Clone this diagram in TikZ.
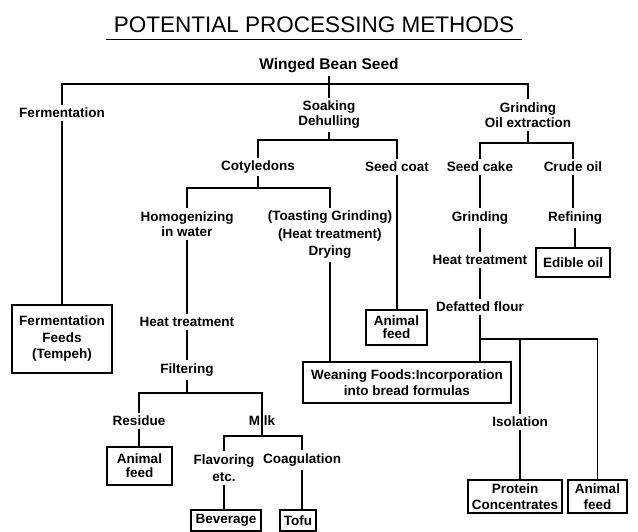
\documentclass[tikz,border=0pt]{standalone}
\usepackage{fontspec}
\setmainfont{Liberation Sans}
\begin{document}
\begin{tikzpicture}[x=1pt,y=-1pt,
  lbl/.style={font=\bfseries\fontsize{13.5}{15}\selectfont, align=center, inner sep=3pt},
  box/.style={lbl, draw, line width=1.5pt, inner sep=0pt},
  conn/.style={line width=1.4pt}]
\useasboundingbox (0,0) rectangle (638,532);
% title
\node[font=\fontsize{22.5}{26}\selectfont, inner sep=0pt] (title) at (314,25) {POTENTIAL PROCESSING METHODS};
\draw[line width=1.2pt] ([xshift=-8pt,yshift=-6pt]title.south west) -- ([xshift=8pt,yshift=-6pt]title.south east);
% level 0/1
\node[lbl, font=\bfseries\fontsize{15.5}{17}\selectfont] (w) at (329,66) {Winged Bean Seed};
\node[lbl] (ferm) at (62,113) {Fermentation};
\node[lbl] (soak) at (329,115) {Soaking\\Dehulling};
\node[lbl] (grind) at (528,115) {Grinding\\Oil extraction};
\coordinate (top) at (329,84);
\draw[conn] (w.south) -- (soak.north);
\draw[conn] (ferm.north) |- (top) -| (grind.north);
% fermentation branch
\node[box, minimum width=100pt, minimum height=68pt, font=\bfseries\fontsize{13.5}{16.5}\selectfont] (fbox) at (62,339) {Fermentation\\Feeds\\(Tempeh)};
\draw[conn] (ferm.south) -- (fbox.north);
% soaking branch
\node[lbl] (coty) at (258,167) {Cotyledons};
\node[lbl] (seedcoat) at (397,167) {Seed coat};
\coordinate (j2) at (329,140);
\draw[conn] (soak.south) -- (j2);
\draw[conn] (coty.north) |- (j2) -| (seedcoat.north);
\node[box, minimum width=61pt, minimum height=35pt, font=\bfseries\fontsize{13.5}{13}\selectfont] (af2) at (396.5,327.5) {Animal\\feed};
\draw[conn] (seedcoat.south) -- (seedcoat.south |- af2.north);
\node[lbl] (homog) at (187,224) {Homogenizing\\in water};
\node[lbl, font=\bfseries\fontsize{13.5}{17.5}\selectfont] (toast) at (330,235) {(Toasting Grinding)\\(Heat treatment)\\Drying};
\coordinate (j4) at (258,188);
\draw[conn] (coty.south) -- (j4);
\draw[conn] (homog.north) |- (j4) -| (toast.north);
\node[lbl] (heat1) at (187,322) {Heat treatment};
\node[lbl] (filter) at (187,370) {Filtering};
\draw[conn] (homog.south) -- (heat1.north);
\draw[conn] (heat1.south) -- (filter.north);
\node[lbl] (residue) at (139,421) {Residue};
\node[lbl] (milk) at (262,421) {Milk};
\coordinate (j5) at (187,393);
\coordinate (j6) at (262,436);
\draw[conn] (filter.south) -- (j5);
\draw[conn] (residue.north) |- (j5) -| (j6);
\node[box, minimum width=65pt, minimum height=38pt, font=\bfseries\fontsize{13.5}{14}\selectfont] (af1) at (139.5,466) {Animal\\feed};
\draw[conn] (residue.south) -- (residue.south |- af1.north);
\node[lbl, font=\bfseries\fontsize{13.5}{17}\selectfont] (flav) at (224,468) {Flavoring\\etc.};
\node[lbl] (coag) at (302,460) {Coagulation};
\draw[conn] (flav.north) |- (j6) -| (coag.north);
\node[box, minimum width=70pt, minimum height=21pt] (bev) at (226,520.5) {Beverage};
\node[box, minimum width=36pt, minimum height=21pt] (tofu) at (298,520.5) {Tofu};
\draw[conn] (flav.south) -- (flav.south |- bev.north);
\draw[conn] (coag.south) -- (coag.south |- tofu.north);
\node[box, minimum width=208pt, minimum height=41pt, font=\bfseries\fontsize{13.5}{16}\selectfont] (wean) at (407,382.5) {Weaning Foods:Incorporation\\into bread formulas};
\draw[conn] (toast.south) -- (toast.south |- wean.north);
% grinding branch
\node[lbl] (seedcake) at (480,167) {Seed cake};
\node[lbl] (crude) at (573,167) {Crude oil};
\coordinate (j3) at (528,143);
\draw[conn] (grind.south) -- (j3);
\draw[conn] (seedcake.north) |- (j3) -| (crude.north);
\node[lbl] (grind2) at (480,218) {Grinding};
\node[lbl] (heat2) at (480,260) {Heat treatment};
\node[lbl] (defat) at (480,307) {Defatted flour};
\draw[conn] (seedcake.south) -- (grind2.north);
\draw[conn] (grind2.south) -- (heat2.north);
\draw[conn] (heat2.south) -- (defat.north);
\draw[conn] (defat.south) -- (defat.south |- wean.north);
\node[lbl] (refine) at (575,218) {Refining};
\node[box, minimum width=74pt, minimum height=29pt] (edible) at (573,262.5) {Edible oil};
\draw[conn] (crude.south) -- (crude.south |- refine.north);
\draw[conn] (refine.south) -- (refine.south |- edible.north);
\coordinate (j7) at (480,339);
\node[lbl] (isol) at (520,422) {Isolation};
\node[box, minimum width=94pt, minimum height=33pt, font=\bfseries\fontsize{13.5}{16}\selectfont] (prot) at (515,496.5) {Protein\\Concentrates};
\node[box, minimum width=59pt, minimum height=33pt, font=\bfseries\fontsize{13.5}{16}\selectfont] (af3) at (597.5,496.5) {Animal\\feed};
\draw[conn] (j7) -| (isol.north);
\draw[conn] (j7) -| (af3.north);
\draw[conn] (isol.south) -- (isol.south |- prot.north);
\end{tikzpicture}
\end{document}
